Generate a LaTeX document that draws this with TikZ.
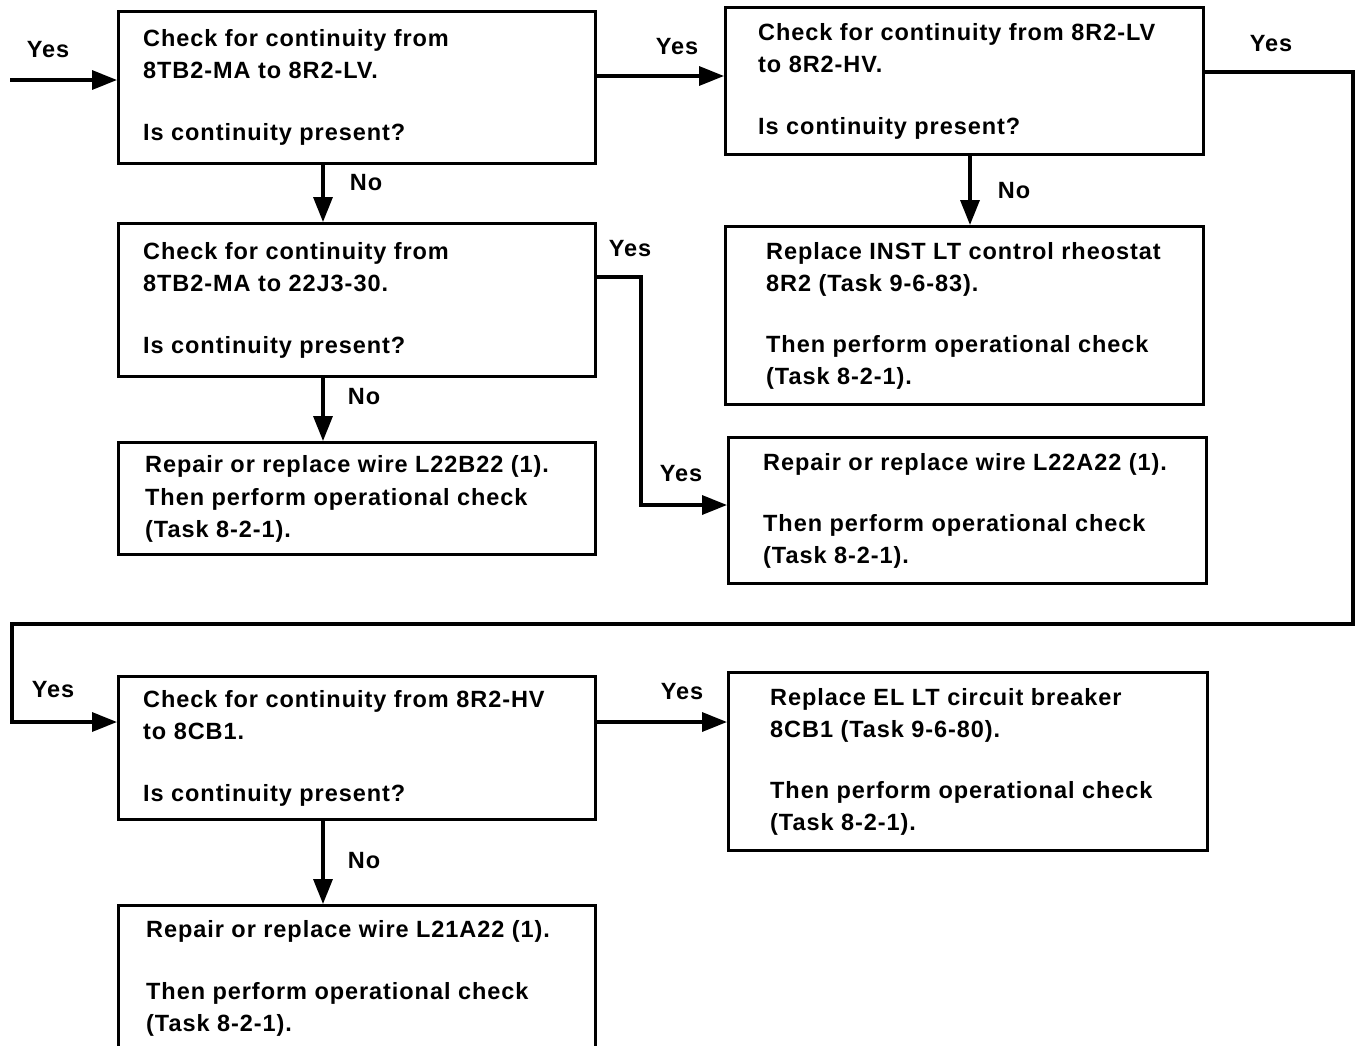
\documentclass[tikz,border=0pt]{standalone}
\usepackage{fontspec}
\setmainfont{Liberation Sans}[LetterSpace=4]
\usetikzlibrary{arrows.meta}
\begin{document}
\begin{tikzpicture}[x=1pt,y=-1pt,
  box/.style={draw, line width=3.4pt, rectangle, inner sep=0pt, anchor=north west},
  txt/.style={align=left, inner sep=0pt, anchor=west, font=\fontsize{23.5}{32}\selectfont\bfseries},
  lbl/.style={inner sep=0pt, font=\fontsize{23.5}{32}\selectfont\bfseries},
  arr/.style={line width=3.4pt, line join=miter, -{Triangle[length=25pt,width=19pt]}}]
\useasboundingbox (0,0) rectangle (1357,1045);

% boxes
\node[box, minimum width=477pt, minimum height=152pt] (A) at (117,10) {};
\node[box, minimum width=478pt, minimum height=147pt] (B) at (724,6) {};
\node[box, minimum width=477pt, minimum height=153pt] (C) at (117,222) {};
\node[box, minimum width=478pt, minimum height=178pt] (D) at (724,225) {};
\node[box, minimum width=477pt, minimum height=112pt] (E) at (117,441) {};
\node[box, minimum width=478pt, minimum height=146pt] (F) at (727,436) {};
\node[box, minimum width=477pt, minimum height=143pt] (G) at (117,675) {};
\node[box, minimum width=479pt, minimum height=178pt] (H) at (727,671) {};
\node[box, minimum width=477pt, minimum height=146pt] (I) at (117,904) {};

% texts
\node[txt] (At) at ([xshift=26pt]A.west) {Check for continuity from\\8TB2-MA to 8R2-LV.\\[30pt]Is continuity present?};
\node[txt] (Bt) at ([xshift=34pt]B.west) {Check for continuity from 8R2-LV\\to 8R2-HV.\\[30pt]Is continuity present?};
\node[txt] (Ct) at ([xshift=26pt]C.west) {Check for continuity from\\8TB2-MA to 22J3-30.\\[30pt]Is continuity present?};
\node[txt] (Dt) at ([xshift=42pt]D.west) {Replace INST LT control rheostat\\8R2 (Task 9-6-83).\\[29pt]Then perform operational check\\(Task 8-2-1).};
\node[txt] (Et) at ([xshift=28pt]E.west) {Repair or replace wire L22B22 (1).\\[1pt]Then perform operational check\\(Task 8-2-1).};
\node[txt] (Ft) at ([xshift=36pt]F.west) {Repair or replace wire L22A22 (1).\\[29pt]Then perform operational check\\(Task 8-2-1).};
\node[txt] (Gt) at ([xshift=26pt]G.west) {Check for continuity from 8R2-HV\\to 8CB1.\\[30pt]Is continuity present?};
\node[txt] (Ht) at ([xshift=43pt]H.west) {Replace EL LT circuit breaker\\8CB1 (Task 9-6-80).\\[29pt]Then perform operational check\\(Task 8-2-1).};
\node[txt] (It) at ([xshift=29pt]I.west) {Repair or replace wire L21A22 (1).\\[30pt]Then perform operational check\\(Task 8-2-1).};

% helper coordinates
\coordinate (in) at (10,80);
\coordinate (ab) at (0,76);
\coordinate (lp1) at (1353,72);
\coordinate (lp2) at (12,624);
\coordinate (gy) at (0,722);
\coordinate (xl) at (323,0);
\coordinate (bd) at (970,0);
\coordinate (cf1) at (641,277);
\coordinate (cf2) at (641,505);

% connectors
\draw[arr] (in) -- (in -| A.west);
\draw[arr] (ab -| A.east) -- (ab -| B.west);
\draw[arr] (xl |- A.south) -- (xl |- C.north);
\draw[arr] (bd |- B.south) -- (bd |- D.north);
\draw[arr] (cf1 -| C.east) -- (cf1) -- (cf2) -- (cf2 -| F.west);
\draw[arr] (xl |- C.south) -- (xl |- E.north);
\draw[arr] (lp1 -| B.east) -- (lp1) -- (lp1 |- lp2) -- (lp2) -- (lp2 |- gy) -- (gy -| G.west);
\draw[arr] (gy -| G.east) -- (gy -| H.west);
\draw[arr] (xl |- G.south) -- (xl |- I.north);

% labels
\node[lbl] (l1) at (48,50) {Yes};
\node[lbl] (l2) at (677,47) {Yes};
\node[lbl] (l3) at (366,183) {No};
\node[lbl] (l4) at (1014,191) {No};
\node[lbl] (l5) at (630,249) {Yes};
\node[lbl] (l6) at (681,474) {Yes};
\node[lbl] (l7) at (364,397) {No};
\node[lbl] (l8) at (1271,44) {Yes};
\node[lbl] (l9) at (53,690) {Yes};
\node[lbl] (l10) at (682,692) {Yes};
\node[lbl] (l11) at (364,861) {No};
\end{tikzpicture}
\end{document}
